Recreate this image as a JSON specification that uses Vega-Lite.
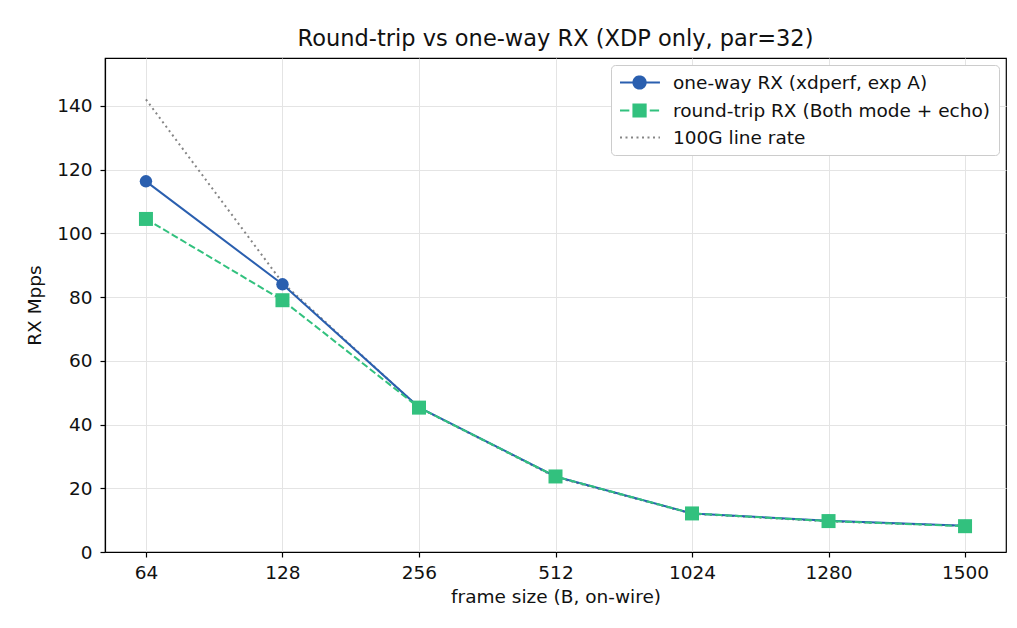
{
  "$schema": "https://vega.github.io/schema/vega-lite/v6.json",
  "width": 901,
  "height": 494,
  "autosize": {"type": "none"},
  "padding": {"left": 105, "top": 58, "right": 11, "bottom": 76},
  "background": "white",
  "title": {"text": "Round-trip vs one-way RX (XDP only, par=32)", "fontSize": 22.5, "font": "DejaVu Sans", "fontWeight": "normal", "color": "#111111", "offset": 8},
  "data": {"values": [
    {"frame": "64", "series": "one-way RX (xdperf, exp A)", "mpps": 116.3},
    {"frame": "128", "series": "one-way RX (xdperf, exp A)", "mpps": 84.0},
    {"frame": "256", "series": "one-way RX (xdperf, exp A)", "mpps": 45.4},
    {"frame": "512", "series": "one-way RX (xdperf, exp A)", "mpps": 23.7},
    {"frame": "1024", "series": "one-way RX (xdperf, exp A)", "mpps": 12.1},
    {"frame": "1280", "series": "one-way RX (xdperf, exp A)", "mpps": 9.8},
    {"frame": "1500", "series": "one-way RX (xdperf, exp A)", "mpps": 8.2},
    {"frame": "64", "series": "round-trip RX (Both mode + echo)", "mpps": 104.5},
    {"frame": "128", "series": "round-trip RX (Both mode + echo)", "mpps": 79.0},
    {"frame": "256", "series": "round-trip RX (Both mode + echo)", "mpps": 45.3},
    {"frame": "512", "series": "round-trip RX (Both mode + echo)", "mpps": 23.7},
    {"frame": "1024", "series": "round-trip RX (Both mode + echo)", "mpps": 12.1},
    {"frame": "1280", "series": "round-trip RX (Both mode + echo)", "mpps": 9.7},
    {"frame": "1500", "series": "round-trip RX (Both mode + echo)", "mpps": 8.1},
    {"frame": "64", "series": "100G line rate", "mpps": 142.0},
    {"frame": "128", "series": "100G line rate", "mpps": 84.5},
    {"frame": "256", "series": "100G line rate", "mpps": 45.3},
    {"frame": "512", "series": "100G line rate", "mpps": 23.5},
    {"frame": "1024", "series": "100G line rate", "mpps": 12.0},
    {"frame": "1280", "series": "100G line rate", "mpps": 9.6},
    {"frame": "1500", "series": "100G line rate", "mpps": 8.2}
  ]},
  "encoding": {
    "x": {"field": "frame", "type": "ordinal", "sort": ["64", "128", "256", "512", "1024", "1280", "1500"],
      "scale": {"type": "point", "padding": 0.3},
      "axis": {"title": "frame size (B, on-wire)", "labelAngle": 0}},
    "y": {"field": "mpps", "type": "quantitative",
      "scale": {"domain": [0, 155], "nice": false, "zero": true},
      "axis": {"title": "RX Mpps", "values": [0, 20, 40, 60, 80, 100, 120, 140]}},
    "color": {"field": "series", "type": "nominal",
      "scale": {"domain": ["one-way RX (xdperf, exp A)", "round-trip RX (Both mode + echo)", "100G line rate"], "range": ["#2a5faf", "#32c17e", "#858585"]},
      "legend": {
        "title": null,
        "orient": "top-right",
        "offset": 7,
        "padding": 8,
        "strokeColor": "#cccccc",
        "fillColor": "white",
        "cornerRadius": 4,
        "labelFont": "DejaVu Sans",
        "labelFontSize": 18.5,
        "labelColor": "#111111",
        "labelLimit": 400,
        "symbolSize": 289,
        "labelOffset": 35,
        "rowPadding": 7,
        "encode": {"symbols": {"update": {
          "shape": {"signal": "datum.value === 'one-way RX (xdperf, exp A)' ? 'M-1,0H3.7M1.3,-0.72A0.72,0.72 0 1 1 1.3,0.72A0.72,0.72 0 1 1 1.3,-0.72Z' : datum.value === 'round-trip RX (Both mode + echo)' ? 'M-1,0H0.1M2.5,0H3.6M0.58,-0.72H2.02V0.72H0.58Z' : 'M-1,0H3.7'"},
          "fill": {"signal": "datum.value === '100G line rate' ? 'transparent' : scale('color', datum.value)"},
          "stroke": {"signal": "scale('color', datum.value)"},
          "strokeWidth": {"value": 2},
          "strokeDash": {"signal": "datum.value === '100G line rate' ? [2,3.5] : [1,0]"},
          "opacity": {"value": 1}
        }}}
      }}
  },
  "layer": [
    {"transform": [{"filter": "datum.series === '100G line rate'"}],
     "mark": {"type": "line", "strokeWidth": 2, "strokeDash": [2, 3.5]}},
    {"transform": [{"filter": "datum.series === 'one-way RX (xdperf, exp A)'"}],
     "mark": {"type": "line", "strokeWidth": 2}},
    {"transform": [{"filter": "datum.series === 'one-way RX (xdperf, exp A)'"}],
     "mark": {"type": "circle", "size": 155, "opacity": 1}},
    {"transform": [{"filter": "datum.series === 'round-trip RX (Both mode + echo)'"}],
     "mark": {"type": "line", "strokeWidth": 2, "strokeDash": [7, 3]}},
    {"transform": [{"filter": "datum.series === 'round-trip RX (Both mode + echo)'"}],
     "mark": {"type": "square", "size": 196, "opacity": 1}}
  ],
  "config": {
    "font": "DejaVu Sans",
    "view": {"stroke": "#000000", "strokeWidth": 1.2},
    "axis": {
      "labelFont": "DejaVu Sans", "labelFontSize": 18.5, "labelColor": "#111111",
      "titleFont": "DejaVu Sans", "titleFontSize": 18.5, "titleFontWeight": "normal", "titleColor": "#111111",
      "domainColor": "#000000", "domainWidth": 1.2,
      "tickColor": "#000000", "tickSize": 5, "tickWidth": 1.2,
      "gridColor": "#e4e4e4", "gridWidth": 1, "grid": true
    },
    "axisX": {"labelPadding": 6, "titlePadding": 6},
    "axisY": {"labelPadding": 8, "titlePadding": 12}
  }
}
